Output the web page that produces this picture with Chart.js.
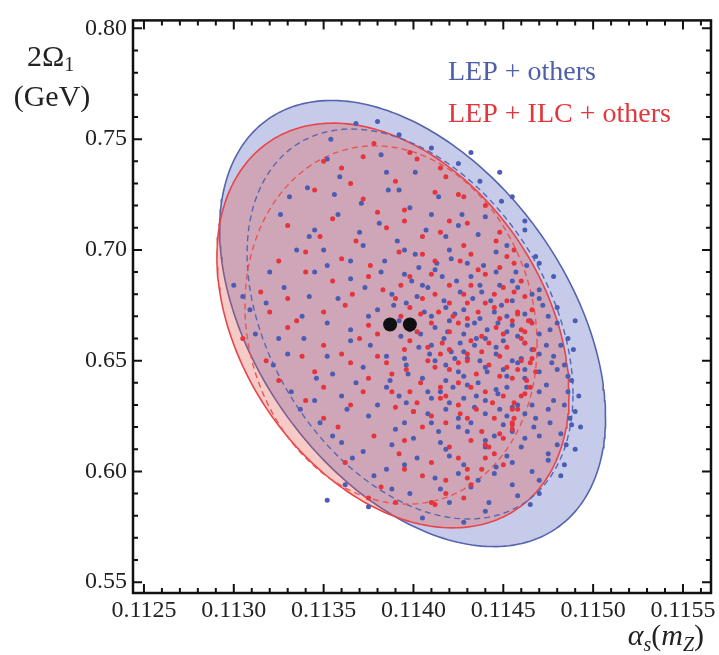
<!DOCTYPE html>
<html>
<head>
<meta charset="utf-8">
<script src="https://cdn.jsdelivr.net/npm/chart.js@4"></script>
<style>
  html, body { margin: 0; padding: 0; background: #fff; }
  canvas { display: block; }
</style>
</head>
<body>
<canvas id="alphaOmega" width="719" height="655"></canvas>
<script>
// axis ranges and ticks
const xRange = [0.112439, 0.115656]
const yRange = [0.5451, 0.8036]
const xMajor = [0.1125, 0.1130, 0.1135, 0.1140, 0.1145, 0.1150, 0.1155]
const yMajor = [0.55, 0.60, 0.65, 0.70, 0.75, 0.80]
const xMinor = [0.1125, 0.1126, 0.1127, 0.1128, 0.1129, 0.1130, 0.1131, 0.1132, 0.1133, 0.1134,
                0.1135, 0.1136, 0.1137, 0.1138, 0.1139, 0.1140, 0.1141, 0.1142, 0.1143, 0.1144,
                0.1145, 0.1146, 0.1147, 0.1148, 0.1149, 0.1150, 0.1151, 0.1152, 0.1153, 0.1154,
                0.1155, 0.1156]
const yMinor = [0.55, 0.56, 0.57, 0.58, 0.59, 0.60, 0.61, 0.62, 0.63, 0.64, 0.65, 0.66, 0.67,
                0.68, 0.69, 0.70, 0.71, 0.72, 0.73, 0.74, 0.75, 0.76, 0.77, 0.78, 0.79, 0.80]

// error ellipses: centre alpha, centre omega, sigma alpha, sigma omega, correlation
const lepOthers = [0.113995, 0.66676, 0.001074, 0.10071, -0.42]
const lepIlcOthers = [0.113886, 0.66586, 0.000980, 0.09135, -0.34]
const lepOthersInner = [0.113981, 0.66653, 0.000907, 0.08801, -0.36]
const lepIlcOthersInner = [0.113875, 0.66609, 0.000813, 0.08088, -0.11]

const bestFit = [[0.11387, 0.6663], [0.11398, 0.6663]]

const bluePoints = [
  [0.11368,0.757],[0.11392,0.752],[0.11410,0.746],[0.11382,0.743],[0.11352,0.741],[0.11425,0.739],
  [0.11401,0.735],[0.11437,0.731],[0.11359,0.733],[0.11341,0.728],[0.11386,0.727],[0.11414,0.724],
  [0.11449,0.722],[0.11371,0.721],[0.11331,0.724],[0.11398,0.719],[0.11427,0.716],[0.11358,0.716],
  [0.11462,0.713],[0.11381,0.712],[0.11345,0.709],[0.11407,0.709],[0.11436,0.707],[0.11391,0.704],
  [0.11372,0.702],[0.11452,0.702],[0.11420,0.700],[0.11335,0.700],[0.11401,0.698],[0.11468,0.697],
  [0.11384,0.695],[0.11430,0.694],[0.11352,0.693],[0.11412,0.691],[0.11446,0.690],[0.11395,0.689],
  [0.11320,0.690],[0.11478,0.688],[0.11365,0.687],[0.11424,0.686],[0.11300,0.684],[0.11405,0.684],
  [0.11458,0.683],[0.11438,0.681],[0.11388,0.680],[0.11342,0.679],[0.11470,0.678],[0.11417,0.677],
  [0.11396,0.676],[0.11449,0.675],[0.11428,0.673],[0.11480,0.674],[0.11309,0.673],[0.11406,0.672],
  [0.11462,0.671],[0.11375,0.670],[0.11437,0.669],[0.11420,0.668],[0.11480,0.667],[0.11352,0.667],
  [0.11455,0.666],[0.11412,0.665],[0.11441,0.664],[0.11428,0.662],[0.11470,0.662],[0.11393,0.661],
  [0.11486,0.660],[0.11417,0.660],[0.11450,0.659],[0.11365,0.659],[0.11434,0.657],[0.11403,0.656],
  [0.11466,0.655],[0.11421,0.654],[0.11446,0.653],[0.11385,0.652],[0.11478,0.652],[0.11330,0.653],
  [0.11430,0.651],[0.11412,0.650],[0.11458,0.649],[0.11484,0.648],[0.11440,0.647],[0.11372,0.647],
  [0.11425,0.645],[0.11470,0.645],[0.11397,0.644],[0.11452,0.643],[0.11346,0.642],[0.11488,0.641],
  [0.11418,0.641],[0.11436,0.640],[0.11463,0.638],[0.11385,0.638],[0.11408,0.636],[0.11447,0.635],
  [0.11486,0.636],[0.11360,0.634],[0.11428,0.633],[0.11478,0.632],[0.11396,0.631],[0.11455,0.629],
  [0.11418,0.628],[0.11337,0.628],[0.11490,0.627],[0.11440,0.626],[0.11375,0.625],[0.11468,0.624],
  [0.11410,0.622],[0.11488,0.621],[0.11450,0.621],[0.11390,0.619],[0.11430,0.618],[0.11482,0.617],
  [0.11355,0.616],[0.11462,0.615],[0.11415,0.613],[0.11485,0.612],[0.11440,0.611],[0.11372,0.609],
  [0.11475,0.608],[0.11402,0.606],[0.11455,0.604],[0.11428,0.603],[0.11484,0.603],[0.11385,0.601],
  [0.11445,0.599],[0.11412,0.597],[0.11470,0.596],[0.11362,0.594],[0.11432,0.593],[0.11398,0.590],
  [0.11458,0.589],[0.11420,0.586],[0.11375,0.584],[0.11440,0.582],[0.11405,0.579],[0.11352,0.587],
  [0.11465,0.585],[0.11428,0.577],
  [0.11402,0.679],[0.11433,0.678],[0.11455,0.677],[0.11418,0.674],[0.11445,0.672],[0.11392,0.668],
  [0.11430,0.666],[0.11465,0.668],[0.11404,0.662],[0.11452,0.663],[0.11426,0.658],[0.11474,0.657],
  [0.11409,0.653],[0.11437,0.650],[0.11460,0.651],[0.11396,0.648],[0.11428,0.643],[0.11452,0.638],
  [0.11415,0.636],[0.11440,0.632],[0.11470,0.636],[0.11400,0.627],[0.11458,0.630],[0.11425,0.624],
  [0.11445,0.616],[0.11388,0.612],[0.11467,0.620],[0.11414,0.618],
  [0.11418,0.706],[0.11446,0.699],[0.11463,0.693],[0.11432,0.688],[0.11455,0.686],[0.11408,0.683],
  [0.11466,0.680],[0.11426,0.681],[0.11443,0.677],[0.11389,0.675],[0.11472,0.675],[0.11410,0.670],
  [0.11452,0.670],[0.11434,0.667],[0.11476,0.664],[0.11398,0.664],[0.11419,0.663],[0.11458,0.661],
  [0.11440,0.660],[0.11482,0.657],[0.11410,0.657],[0.11446,0.656],[0.11428,0.654],[0.11470,0.653],
  [0.11395,0.651],[0.11455,0.650],[0.11418,0.648],[0.11480,0.646],[0.11441,0.645],[0.11462,0.642],
  [0.11405,0.642],[0.11430,0.639],[0.11474,0.639],[0.11446,0.637],[0.11392,0.634],[0.11420,0.631],
  [0.11466,0.630],[0.11434,0.629],[0.11484,0.630],[0.11408,0.626],[0.11452,0.625],[0.11476,0.622],
  [0.11425,0.620],[0.11440,0.614],[0.11460,0.611],[0.11400,0.615],[0.11475,0.605],[0.11420,0.607],
  [0.11446,0.602],[0.11395,0.603],[0.11455,0.594],[0.11415,0.592],
  [0.11305,0.679],[0.11318,0.676],[0.11312,0.662],[0.11322,0.648],[0.11339,0.660],[0.11332,0.636],
  [0.11348,0.622],[0.11360,0.613],[0.11342,0.706],[0.11326,0.716],[0.11354,0.750],[0.11380,0.758],
  [0.11432,0.744],[0.11448,0.735],[0.11455,0.724],[0.11462,0.709],[0.11470,0.694],[0.11490,0.668],
  [0.11493,0.620],[0.11490,0.610],[0.11482,0.598],[0.11470,0.590],[0.11378,0.598],[0.11366,0.606],
  [0.11388,0.592],[0.11442,0.586],
  [0.11421,0.696],[0.11439,0.693],[0.11457,0.690],[0.11403,0.692],[0.11416,0.688],[0.11448,0.684],
  [0.11470,0.682],[0.11399,0.686],[0.11382,0.690],[0.11365,0.695],[0.11350,0.700],[0.11373,0.683],
  [0.11358,0.678],[0.11380,0.673],[0.11365,0.664],[0.11376,0.657],[0.11352,0.652],[0.11387,0.641],
  [0.11368,0.640],[0.11380,0.630],[0.11395,0.622],[0.11363,0.628],[0.11410,0.633],[0.11422,0.638],
  [0.11435,0.634],[0.11448,0.628],[0.11462,0.626],[0.11475,0.628],[0.11487,0.624],[0.11470,0.616],
  [0.11455,0.618],[0.11432,0.622],[0.11418,0.610],[0.11452,0.607],[0.11466,0.600],[0.11436,0.596],
  [0.11425,0.599],[0.11462,0.646],[0.11477,0.649],[0.11450,0.646],[0.11423,0.651],[0.11435,0.660],
  [0.11462,0.658],[0.11475,0.670],[0.11447,0.667],[0.11423,0.671],[0.11437,0.684],[0.11413,0.694],
  [0.11395,0.700],[0.11425,0.711],[0.11410,0.716],[0.11392,0.727],[0.11440,0.715],[0.11370,0.708],
  [0.11356,0.725],[0.11385,0.735],[0.11345,0.690],[0.11328,0.683],[0.11338,0.670],[0.11325,0.660],
  [0.11345,0.632],[0.11355,0.644],[0.11486,0.643],[0.11492,0.634],[0.11480,0.612],[0.11489,0.655]
]

const redPoints = [
  [0.11378,0.748],[0.11402,0.741],[0.11360,0.737],[0.11418,0.733],[0.11390,0.731],[0.11345,0.727],
  [0.11412,0.726],[0.11372,0.723],[0.11440,0.720],[0.11395,0.718],[0.11355,0.714],[0.11420,0.713],
  [0.11330,0.711],[0.11385,0.710],[0.11448,0.708],[0.11405,0.706],[0.11368,0.704],[0.11428,0.702],
  [0.11340,0.699],[0.11392,0.699],[0.11452,0.697],[0.11412,0.695],[0.11376,0.693],[0.11325,0.695],
  [0.11436,0.691],[0.11398,0.688],[0.11355,0.686],[0.11460,0.686],[0.11420,0.684],[0.11383,0.682],
  [0.11445,0.680],[0.11315,0.681],[0.11405,0.678],[0.11430,0.676],[0.11362,0.675],[0.11466,0.673],
  [0.11414,0.672],[0.11393,0.670],[0.11448,0.669],[0.11335,0.668],[0.11425,0.667],[0.11460,0.664],
  [0.11402,0.663],[0.11380,0.662],[0.11438,0.661],[0.11462,0.658],[0.11416,0.658],[0.11350,0.657],
  [0.11452,0.656],[0.11395,0.655],[0.11430,0.653],[0.11466,0.651],[0.11408,0.650],[0.11365,0.649],
  [0.11442,0.648],[0.11420,0.646],[0.11388,0.644],[0.11463,0.641],[0.11455,0.642],[0.11325,0.641],
  [0.11404,0.640],[0.11432,0.638],[0.11372,0.636],[0.11462,0.635],[0.11415,0.633],[0.11444,0.631],
  [0.11390,0.629],[0.11458,0.628],[0.11426,0.626],[0.11350,0.624],[0.11455,0.622],[0.11405,0.620],
  [0.11438,0.618],[0.11378,0.616],[0.11450,0.615],[0.11420,0.611],[0.11392,0.608],[0.11440,0.606],
  [0.11362,0.604],[0.11430,0.601],[0.11405,0.598],[0.11432,0.594],[0.11382,0.593],[0.11418,0.590],
  [0.11410,0.586],[0.11375,0.588],
  [0.11412,0.680],[0.11440,0.676],[0.11398,0.674],[0.11458,0.672],[0.11422,0.670],[0.11375,0.666],
  [0.11446,0.665],[0.11410,0.667],[0.11432,0.659],[0.11460,0.660],[0.11398,0.659],[0.11420,0.655],
  [0.11448,0.652],[0.11380,0.652],[0.11412,0.647],[0.11435,0.644],[0.11458,0.646],[0.11398,0.636],
  [0.11425,0.640],[0.11450,0.634],[0.11435,0.628],[0.11410,0.625],[0.11456,0.624],[0.11395,0.614],
  [0.11440,0.612],
  [0.11430,0.712],[0.11446,0.704],[0.11456,0.694],[0.11440,0.689],[0.11456,0.681],[0.11428,0.680],
  [0.11390,0.678],[0.11452,0.677],[0.11462,0.679],[0.11404,0.671],[0.11436,0.672],[0.11464,0.668],
  [0.11385,0.667],[0.11420,0.663],[0.11450,0.662],[0.11467,0.655],[0.11408,0.656],[0.11438,0.654],
  [0.11460,0.650],[0.11425,0.649],[0.11396,0.646],[0.11448,0.643],[0.11465,0.638],[0.11415,0.638],
  [0.11440,0.636],[0.11456,0.631],[0.11402,0.631],[0.11425,0.630],[0.11460,0.634],[0.11445,0.624],
  [0.11418,0.622],[0.11455,0.619],[0.11432,0.614],[0.11445,0.608],[0.11410,0.604],[0.11430,0.597],
  [0.11305,0.660],[0.11318,0.650],[0.11330,0.678],[0.11345,0.645],[0.11340,0.632],[0.11358,0.620],
  [0.11372,0.742],[0.11350,0.740],[0.11398,0.744],[0.11415,0.737],[0.11425,0.725],[0.11456,0.700],
  [0.11466,0.667],[0.11390,0.586],[0.11412,0.585],[0.11428,0.588],
  [0.11426,0.695],[0.11448,0.692],[0.11410,0.689],[0.11432,0.684],[0.11450,0.683],[0.11393,0.684],
  [0.11375,0.688],[0.11360,0.696],[0.11348,0.706],[0.11366,0.680],[0.11350,0.672],[0.11370,0.660],
  [0.11360,0.653],[0.11385,0.649],[0.11375,0.642],[0.11388,0.636],[0.11365,0.630],[0.11400,0.627],
  [0.11418,0.634],[0.11430,0.624],[0.11455,0.628],[0.11455,0.621],[0.11448,0.617],[0.11442,0.611],
  [0.11425,0.606],[0.11450,0.603],[0.11418,0.596],[0.11438,0.601],[0.11395,0.601],[0.11468,0.645],
  [0.11452,0.647],[0.11465,0.649],[0.11430,0.650],[0.11415,0.653],[0.11442,0.658],[0.11462,0.663],
  [0.11455,0.668],[0.11430,0.669],[0.11458,0.671],[0.11445,0.674],[0.11420,0.676],[0.11405,0.698],
  [0.11432,0.698],[0.11415,0.708],[0.11395,0.713],[0.11428,0.724],[0.11380,0.717],[0.11365,0.730],
  [0.11340,0.690],[0.11330,0.665],[0.11320,0.672],[0.11338,0.652],[0.11350,0.638]
]

const blueDot = '#4a5db3'
const redDot = '#e5343b'

// outline of a correlated error ellipse, in data units
function outline(e) {
  const [cx, cy, sx, sy, rho] = e
  const pts = []
  for (let i = 0; i <= 240; i++) {
    const t = i / 240 * 2 * Math.PI
    pts.push({ x: cx + sx * Math.cos(t), y: cy + sy * (rho * Math.cos(t) + Math.sqrt(1 - rho * rho) * Math.sin(t)) })
  }
  return pts
}

const toXY = list => list.map(p => ({ x: p[0], y: p[1] }))

const serif = "'Liberation Serif', 'DejaVu Serif', serif"

const frame = {
  id: 'frame',
  afterDraw(chart) {
    const { ctx, chartArea: a, scales: { x, y } } = chart
    ctx.save()
    ctx.strokeStyle = '#111'
    ctx.lineWidth = 2
    ctx.beginPath()
    xMinor.forEach(v => {
      const len = xMajor.some(m => Math.abs(m - v) < 1e-7) ? 9 : 5
      const px = x.getPixelForValue(v)
      ctx.moveTo(px, a.bottom); ctx.lineTo(px, a.bottom - len)
      ctx.moveTo(px, a.top); ctx.lineTo(px, a.top + len)
    })
    yMinor.forEach(v => {
      const len = yMajor.some(m => Math.abs(m - v) < 1e-7) ? 9 : 5
      const py = y.getPixelForValue(v)
      ctx.moveTo(a.left, py); ctx.lineTo(a.left + len, py)
      ctx.moveTo(a.right, py); ctx.lineTo(a.right - len, py)
    })
    ctx.stroke()
    ctx.lineWidth = 2.5
    ctx.strokeRect(a.left, a.top, a.right - a.left, a.bottom - a.top)

    // legend
    ctx.textBaseline = 'alphabetic'
    ctx.textAlign = 'left'
    ctx.font = '28px ' + serif
    ctx.fillStyle = '#4f5ea9'
    ctx.fillText('LEP + others', 448, 80)
    ctx.fillStyle = '#e0363c'
    ctx.fillText('LEP + ILC + others', 448, 122)

    // y title
    ctx.fillStyle = '#222'
    ctx.font = '30px ' + serif
    ctx.fillText('2Ω', 27, 66)
    const w = ctx.measureText('2Ω').width
    ctx.font = '20px ' + serif
    ctx.fillText('1', 27 + w, 71)
    ctx.font = '30px ' + serif
    ctx.textAlign = 'center'
    ctx.fillText('(GeV)', 52, 106)

    // x title
    ctx.textAlign = 'left'
    const parts = [['α', 'italic 30px', 0], ['s', 'italic 20px', 6], ['(', '30px', 0], ['m', 'italic 30px', 0], ['Z', 'italic 20px', 6], [')', '30px', 0]]
    let total = 0
    parts.forEach(p => { ctx.font = p[1] + ' ' + serif; total += ctx.measureText(p[0]).width })
    let cx = 704 - total
    parts.forEach(p => {
      ctx.font = p[1] + ' ' + serif
      ctx.fillText(p[0], cx, 645 + p[2])
      cx += ctx.measureText(p[0]).width
    })
    ctx.restore()
  }
}

new Chart('alphaOmega', {
  type: 'scatter',
  data: {
    datasets: [
      { data: toXY(bestFit), backgroundColor: '#111', borderWidth: 0, pointRadius: 7, order: 0 },
      { data: toXY(redPoints), backgroundColor: redDot, borderWidth: 0, pointRadius: 2.5, order: 1 },
      { data: toXY(bluePoints), backgroundColor: blueDot, borderWidth: 0, pointRadius: 2.5, order: 2 },
      { data: outline(lepIlcOthersInner), showLine: true, pointRadius: 0, borderColor: '#e8574f', borderWidth: 1.4, borderDash: [6, 4], fill: false, order: 3 },
      { data: outline(lepOthersInner), showLine: true, pointRadius: 0, borderColor: '#5767b2', borderWidth: 1.4, borderDash: [6, 4], fill: false, order: 4 },
      { data: outline(lepIlcOthers), showLine: true, pointRadius: 0, borderColor: '#e8454a', borderWidth: 1.6, backgroundColor: 'rgba(225,80,70,0.30)', fill: 'shape', order: 5 },
      { data: outline(lepOthers), showLine: true, pointRadius: 0, borderColor: '#5564ae', borderWidth: 1.6, backgroundColor: 'rgb(199,203,234)', fill: 'shape', order: 6 }
    ]
  },
  options: {
    responsive: false,
    animation: false,
    layout: { padding: { top: 13, right: 8, left: 0, bottom: 0 } },
    plugins: { legend: { display: false }, tooltip: { enabled: false } },
    scales: {
      x: {
        type: 'linear', min: xRange[0], max: xRange[1],
        afterBuildTicks: s => { s.ticks = xMajor.map(v => ({ value: v })) },
        afterFit: s => { s.height = 62 },
        grid: { display: false, drawTicks: false },
        border: { display: false },
        ticks: { callback: v => v.toFixed(4), font: { family: serif, size: 24 }, color: '#222', padding: 3, autoSkip: false, maxRotation: 0 }
      },
      y: {
        type: 'linear', min: yRange[0], max: yRange[1],
        afterBuildTicks: s => { s.ticks = yMajor.map(v => ({ value: v })) },
        afterFit: s => { s.width = 133 },
        grid: { display: false, drawTicks: false },
        border: { display: false },
        ticks: { callback: v => v.toFixed(2), font: { family: serif, size: 24 }, color: '#222', padding: 6, autoSkip: false }
      }
    }
  },
  plugins: [frame]
})
</script>
</body>
</html>
